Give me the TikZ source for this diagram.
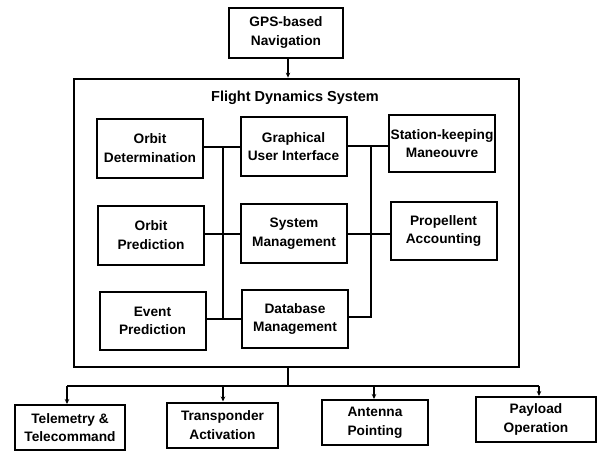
\documentclass[tikz,border=0pt]{standalone}
\usepackage{fontspec}
\setmainfont{Liberation Sans}
\usetikzlibrary{arrows.meta}
\tikzset{
  box/.style={draw, line width=2pt, align=center, inner sep=1pt,
    font=\bfseries\fontsize{13.7}{18.5}\selectfont},
  inbox/.style={box, minimum width=106pt, minimum height=59pt},
  outbox/.style={box, minimum height=45pt},
  frame/.style={draw, line width=2.8pt, minimum width=445pt, minimum height=288pt, inner sep=0pt},
  conn/.style={line width=2pt},
  arr/.style={conn, -{Stealth[length=5pt,width=4.5pt]}}
}
\begin{document}
\begin{tikzpicture}[x=1pt,y=-1pt]
\useasboundingbox (0,0) rectangle (605,461);
% top
\node[box, minimum width=114pt, minimum height=50pt] (gps) at (286,32.5) {GPS-based\\Navigation};
\node[frame] (fds) at (296.5,223) {};
\node[font=\bfseries\fontsize{14.5}{17}\selectfont] (title) at (295,98) {Flight Dynamics System};
% inner boxes
\node[inbox] (od) at (150,148) {Orbit\\Determination};
\node[inbox] (gui) at (293.5,146.5) {Graphical\\User Interface};
\node[inbox, minimum height=57pt] (sk) at (442,143.5) {Station-keeping\\Maneouvre};
\node[inbox] (op) at (151,235) {Orbit\\Prediction};
\node[inbox] (sm) at (294,233.5) {System\\Management};
\node[inbox, minimum height=58pt] (pa) at (443.5,231) {Propellent\\Accounting};
\node[inbox, minimum height=58pt] (ep) at (152.5,321) {Event\\Prediction};
\node[inbox, minimum height=58pt] (db) at (295,319) {Database\\Management};
% bottom boxes
\node[outbox, minimum width=110pt] (tt) at (70,427.5) {Telemetry \&\\Telecommand};
\node[outbox, minimum width=111pt] (ta) at (222.5,425) {Transponder\\Activation};
\node[outbox, minimum width=106pt] (ap) at (375,422.5) {Antenna\\Pointing};
\node[outbox, minimum width=120pt] (po) at (536,419.5) {Payload\\Operation};
% GPS arrow
\coordinate (g1) at (288,57.5);
\draw[arr] (g1) -- (g1 |- fds.north);
% left bus
\coordinate (l1) at (223,147);
\coordinate (l2) at (223,234);
\coordinate (l3) at (223,319);
\draw[conn] (od.east |- l1) -- (gui.west |- l1);
\draw[conn] (op.east |- l2) -- (sm.west |- l2);
\draw[conn] (ep.east |- l3) -- (db.west |- l3);
\draw[conn] (l1) -- (l3);
% right bus
\coordinate (r1) at (371,146);
\coordinate (r2) at (371,234);
\coordinate (r3) at (371,317);
\draw[conn] (gui.east |- r1) -- (sk.west |- r1);
\draw[conn] (sm.east |- r2) -- (pa.west |- r2);
\draw[conn] (db.east |- r3) -- (r3) -- (r1);
% bottom distribution
\coordinate (s0) at (288,367);
\coordinate (s1) at (288,386);
\coordinate (bl) at (67,386);
\coordinate (br) at (539,386);
\draw[conn] (s0) -- (s1);
\draw[conn] (bl) -- (br);
\draw[arr] (bl) -- (bl |- tt.north);
\draw[arr] (223,386) -- (223,386 |- ta.north);
\draw[arr] (374,386) -- (374,386 |- ap.north);
\draw[arr] (br) -- (br |- po.north);
\end{tikzpicture}
\end{document}
